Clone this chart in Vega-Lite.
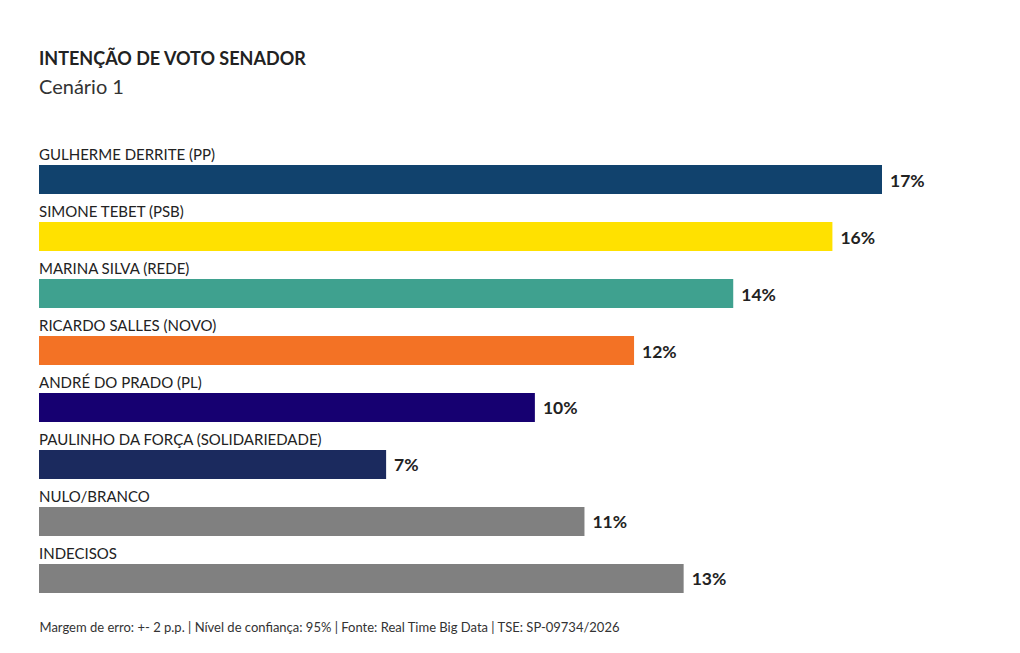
{
  "$schema": "https://vega.github.io/schema/vega-lite/v6.json",
  "autosize": {"type": "none"},
  "width": 843,
  "height": 428,
  "padding": {"left": 39, "top": 165, "right": 138, "bottom": 60},
  "background": "white",
  "config": {"view": {"stroke": null}, "font": "Lato"},
  "title": {
    "text": "INTENÇÃO DE VOTO SENADOR",
    "subtitle": "Cenário 1",
    "anchor": "start",
    "frame": "group",
    "fontSize": 18,
    "fontWeight": "bold",
    "color": "#222222",
    "subtitleFontSize": 20,
    "subtitleColor": "#333333",
    "subtitlePadding": 9,
    "offset": 50
  },
  "data": {
    "values": [
      {"nome": "GULHERME DERRITE (PP)", "pct": 17, "rotulo": "17%", "cor": "#11426d"},
      {"nome": "SIMONE TEBET (PSB)", "pct": 16, "rotulo": "16%", "cor": "#ffe100"},
      {"nome": "MARINA SILVA (REDE)", "pct": 14, "rotulo": "14%", "cor": "#3fa18f"},
      {"nome": "RICARDO SALLES (NOVO)", "pct": 12, "rotulo": "12%", "cor": "#f37225"},
      {"nome": "ANDRÉ DO PRADO (PL)", "pct": 10, "rotulo": "10%", "cor": "#160071"},
      {"nome": "PAULINHO DA FORÇA (SOLIDARIEDADE)", "pct": 7, "rotulo": "7%", "cor": "#1b2a5e"},
      {"nome": "NULO/BRANCO", "pct": 11, "rotulo": "11%", "cor": "#808080"},
      {"nome": "INDECISOS", "pct": 13, "rotulo": "13%", "cor": "#808080"}
    ]
  },
  "encoding": {
    "y": {
      "field": "nome",
      "type": "nominal",
      "sort": null,
      "scale": {"paddingInner": 0.49, "paddingOuter": 0},
      "axis": null
    }
  },
  "layer": [
    {
      "mark": {"type": "bar"},
      "encoding": {
        "x": {
          "field": "pct",
          "type": "quantitative",
          "scale": {"domain": [0, 17], "nice": false},
          "axis": {
            "labels": false,
            "ticks": false,
            "domain": false,
            "grid": false,
            "title": "Margem de erro: +- 2 p.p. | Nível de confiança: 95% | Fonte: Real Time Big Data | TSE: SP-09734/2026",
            "titleFontSize": 13,
            "titleFontWeight": "normal",
            "titleColor": "#333333",
            "titleAnchor": "start",
            "titleAlign": "left",
            "titleBaseline": "alphabetic",
            "titleX": 0,
            "titleY": 38
          }
        },
        "color": {"field": "cor", "type": "nominal", "scale": null}
      }
    },
    {
      "mark": {"type": "text", "align": "left", "baseline": "bottom", "dy": -2, "fontSize": 15, "color": "#222222"},
      "encoding": {
        "y": {"field": "nome", "type": "nominal", "sort": null, "bandPosition": 0},
        "x": {"datum": 0},
        "text": {"field": "nome"}
      }
    },
    {
      "mark": {"type": "text", "align": "left", "baseline": "middle", "dx": 8, "dy": 2, "fontSize": 17.5, "fontWeight": "bold", "color": "#222222"},
      "encoding": {
        "x": {"field": "pct", "type": "quantitative"},
        "text": {"field": "rotulo"}
      }
    }
  ]
}
